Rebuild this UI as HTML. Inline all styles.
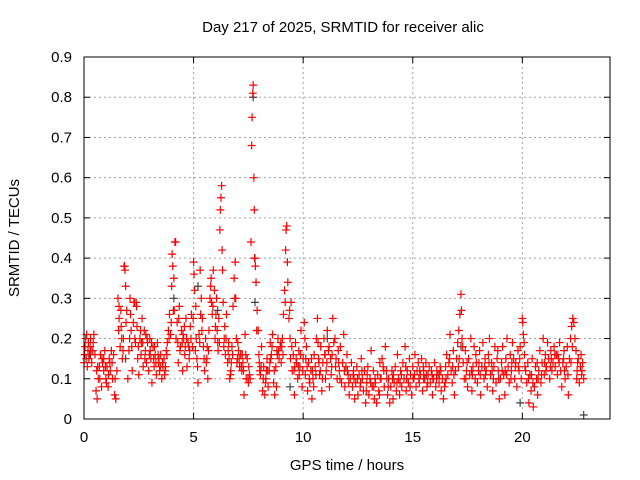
<!DOCTYPE html>
<html><head><meta charset="utf-8"><style>
body{margin:0;background:#fff}
svg{display:block}
text{font-family:"Liberation Sans",sans-serif;font-size:15px;fill:#000}
</style></head><body>
<svg id="chart" width="640" height="480">
<text x="343" y="32" text-anchor="middle">Day 217 of 2025, SRMTID for receiver alic</text>
<text x="347" y="470" text-anchor="middle">GPS time / hours</text>
<text transform="translate(19,238) rotate(-90)" text-anchor="middle">SRMTID / TECUs</text>
<g id="grid"></g>
<g id="ticks"></g>
<g id="marks"></g>
<rect x="84" y="57" width="526" height="362" fill="none" stroke="#000" stroke-width="1"/>
</svg>
<script>
const xTicks=[0,5,10,15,20];
const yTicks=[0,0.1,0.2,0.3,0.4,0.5,0.6,0.7,0.8,0.9];
const yTickLabels=["0","0.1","0.2","0.3","0.4","0.5","0.6","0.7","0.8","0.9"];
const redObs=[
[0.0,0.14],[0.05,0.18],[0.1,0.15],[0.12,0.21],[0.15,0.13],[0.2,0.19],[0.25,0.16],[0.3,0.2],[0.35,0.14],[0.4,0.17],[0.45,0.21],[0.5,0.16],
[0.55,0.07],[0.6,0.05],[0.65,0.1],[0.7,0.13],[0.75,0.16],[0.8,0.08],[0.85,0.14],[0.9,0.12],[0.95,0.17],[1.0,0.1],[1.05,0.13],[1.1,0.08],[1.15,0.15],[1.2,0.12],[1.25,0.17],[1.3,0.1],[1.35,0.16],[1.4,0.06],[1.45,0.05],[1.5,0.12],
[1.55,0.3],[1.6,0.25],[1.65,0.18],[1.7,0.23],[1.75,0.15],[1.8,0.2],[1.85,0.38],[1.87,0.37],[1.9,0.33],[1.95,0.27],[2.0,0.1],[2.05,0.17],[2.1,0.3],[2.15,0.22],[2.2,0.12],[2.25,0.24],[2.3,0.29],[2.35,0.19],[2.4,0.28],[2.45,0.15],[2.5,0.11],
[2.55,0.2],[2.6,0.16],[2.65,0.25],[2.7,0.13],[2.75,0.22],[2.8,0.17],[2.85,0.14],[2.9,0.19],[2.95,0.12],[3.0,0.2],[3.05,0.15],[3.1,0.09],[3.15,0.18],[3.2,0.13],[3.25,0.16],[3.3,0.11],[3.35,0.19],[3.4,0.14],[3.45,0.12],
[3.5,0.16],[3.55,0.1],[3.6,0.13],[3.65,0.15],[3.7,0.12],[3.75,0.17],[3.8,0.19],[3.85,0.22],[3.9,0.26],[3.95,0.21],[4.0,0.33],[4.02,0.41],[4.05,0.38],[4.1,0.35],[4.12,0.27],[4.15,0.44],[4.2,0.2],[4.25,0.24],[4.3,0.14],[4.35,0.28],[4.4,0.18],[4.45,0.22],[4.5,0.12],[4.55,0.2],[4.6,0.16],[4.65,0.25],[4.7,0.13],[4.75,0.19],[4.8,0.15],[4.85,0.23],[4.9,0.26],[4.95,0.18],
[5.0,0.39],[5.02,0.36],[5.05,0.32],[5.1,0.28],[5.15,0.15],[5.2,0.09],[5.25,0.21],[5.3,0.37],[5.35,0.3],[5.4,0.25],[5.45,0.18],[5.5,0.12],[5.55,0.2],[5.6,0.15],[5.65,0.1],[5.7,0.22],[5.75,0.3],[5.8,0.35],[5.85,0.26],[5.9,0.37],[5.95,0.32],[6.0,0.23],[6.05,0.3],[6.1,0.19],[6.15,0.25],
[6.2,0.47],[6.22,0.52],[6.25,0.55],[6.28,0.58],[6.3,0.42],[6.32,0.37],[6.35,0.29],[6.4,0.2],[6.45,0.16],[6.5,0.26],[6.55,0.14],[6.6,0.19],[6.65,0.1],[6.7,0.12],[6.75,0.18],[6.8,0.28],[6.85,0.35],[6.9,0.39],[6.92,0.3],[6.95,0.2],[7.0,0.15],[7.05,0.17],[7.1,0.13],[7.15,0.16],[7.2,0.12],[7.25,0.14],[7.3,0.06],[7.35,0.21],[7.4,0.1],[7.45,0.15],[7.5,0.09],[7.55,0.11],
[7.62,0.44],[7.65,0.68],[7.67,0.75],[7.7,0.81],[7.72,0.83],[7.75,0.6],[7.77,0.52],[7.8,0.4],[7.82,0.38],[7.85,0.34],[7.9,0.27],[7.95,0.22],[8.0,0.14],[8.05,0.11],[8.1,0.18],[8.15,0.07],[8.2,0.13],[8.25,0.06],[8.3,0.1],[8.35,0.15],[8.4,0.08],[8.45,0.12],[8.5,0.19],[8.55,0.16],[8.6,0.21],[8.65,0.09],[8.7,0.06],[8.75,0.13],[8.8,0.17],[8.85,0.2],[8.9,0.15],[8.95,0.18],[9.0,0.14],[9.05,0.2],[9.1,0.26],
[9.15,0.32],[9.2,0.42],[9.22,0.47],[9.25,0.48],[9.28,0.39],[9.3,0.34],[9.35,0.25],[9.4,0.2],[9.45,0.29],[9.5,0.12],[9.55,0.16],[9.6,0.06],[9.65,0.19],[9.7,0.14],[9.75,0.1],[9.8,0.17],[9.85,0.13],[9.9,0.22],[9.95,0.08],[10.0,0.15],[10.05,0.24],[10.1,0.11],[10.15,0.18],[10.2,0.07],[10.25,0.14],[10.3,0.09],[10.35,0.12],[10.4,0.05],[10.45,0.1],[10.5,0.16],[10.55,0.13],[10.6,0.2],[10.65,0.25],[10.7,0.15],[10.75,0.11],[10.8,0.18],[10.85,0.07],[10.9,0.14],[10.95,0.2],[11.0,0.16],[11.05,0.12],[11.1,0.22],[11.15,0.17],[11.2,0.08],[11.25,0.15],[11.3,0.13],
[11.35,0.25],[11.4,0.19],[11.45,0.2],[11.5,0.15],[11.55,0.1],[11.6,0.17],[11.65,0.12],[11.7,0.18],[11.75,0.09],[11.8,0.14],[11.85,0.21],[11.9,0.08],[11.95,0.13],[12.0,0.16],[12.05,0.11],[12.1,0.06],[12.15,0.1],[12.2,0.14],[12.25,0.08],[12.3,0.12],[12.35,0.05],[12.4,0.09],[12.45,0.13],[12.5,0.06],[12.55,0.11],[12.6,0.08],[12.65,0.15],[12.7,0.1],[12.75,0.07],[12.8,0.12],[12.85,0.04],[12.9,0.09],[12.95,0.13],[13.0,0.06],[13.05,0.1],[13.1,0.17],[13.15,0.08],[13.2,0.12],[13.25,0.05],[13.3,0.09],[13.35,0.04],[13.4,0.11],[13.45,0.07],[13.5,0.14],[13.55,0.1],[13.6,0.15],[13.65,0.13],[13.7,0.08],[13.75,0.18],[13.8,0.12],[13.85,0.06],[13.9,0.1],[13.95,0.04],[14.0,0.08],[14.05,0.12],[14.1,0.05],[14.15,0.09],[14.2,0.13],[14.25,0.07],[14.3,0.16],[14.35,0.1],[14.4,0.06],[14.45,0.12],[14.5,0.08],
[14.55,0.14],[14.6,0.1],[14.65,0.18],[14.7,0.07],[14.75,0.12],[14.8,0.09],[14.85,0.15],[14.9,0.11],[14.95,0.06],[15.0,0.13],[15.05,0.1],[15.1,0.16],[15.15,0.08],[15.2,0.12],[15.25,0.14],[15.3,0.09],[15.35,0.11],[15.4,0.15],[15.45,0.07],[15.5,0.12],[15.55,0.1],[15.6,0.14],[15.65,0.08],[15.7,0.11],[15.75,0.13],[15.8,0.09],[15.85,0.12],[15.9,0.06],[15.95,0.1],[16.0,0.14],[16.05,0.08],[16.1,0.12],[16.15,0.11],[16.2,0.09],[16.25,0.13],[16.3,0.07],[16.35,0.1],[16.4,0.05],[16.45,0.08],[16.5,0.13],[16.55,0.16],[16.6,0.11],[16.65,0.14],[16.7,0.21],[16.75,0.12],[16.8,0.09],[16.85,0.17],[16.9,0.06],[16.95,0.12],[17.0,0.15],
[17.05,0.19],[17.1,0.22],[17.15,0.26],[17.2,0.31],[17.22,0.27],[17.25,0.2],[17.3,0.14],[17.35,0.1],[17.4,0.17],[17.45,0.12],[17.5,0.08],[17.55,0.15],[17.6,0.11],[17.65,0.2],[17.7,0.07],[17.75,0.13],[17.8,0.18],[17.85,0.1],[17.9,0.14],[17.95,0.09],[18.0,0.12],[18.05,0.17],[18.1,0.06],[18.15,0.13],[18.2,0.19],[18.25,0.1],[18.3,0.15],[18.35,0.12],[18.4,0.08],[18.45,0.16],[18.5,0.2],[18.55,0.11],[18.6,0.14],[18.65,0.07],[18.7,0.13],[18.75,0.18],[18.8,0.09],[18.85,0.15],[18.9,0.12],[18.95,0.05],[19.0,0.1],[19.05,0.14],[19.1,0.18],[19.15,0.11],[19.2,0.06],[19.25,0.15],[19.3,0.2],[19.35,0.13],[19.4,0.09],[19.45,0.16],[19.5,0.12],[19.55,0.19],[19.6,0.15],[19.65,0.1],[19.7,0.14],[19.75,0.08],[19.8,0.17],[19.85,0.12],[19.9,0.18],[19.95,0.1],
[20.0,0.25],[20.02,0.24],[20.05,0.21],[20.1,0.16],[20.15,0.12],[20.2,0.09],[20.25,0.14],[20.3,0.04],[20.35,0.11],[20.4,0.07],[20.45,0.15],[20.5,0.03],[20.55,0.08],[20.6,0.13],[20.65,0.1],[20.7,0.06],[20.75,0.12],[20.8,0.17],[20.85,0.09],[20.9,0.14],[20.95,0.2],[21.0,0.11],[21.05,0.16],[21.1,0.13],[21.15,0.19],[21.2,0.15],[21.25,0.1],[21.3,0.17],[21.35,0.12],[21.4,0.14],[21.45,0.18],[21.5,0.13],[21.55,0.16],[21.6,0.11],[21.65,0.15],[21.7,0.19],[21.75,0.12],[21.8,0.08],[21.85,0.14],[21.9,0.17],[21.95,0.1],[22.0,0.13],[22.05,0.18],[22.1,0.06],[22.15,0.15],[22.2,0.2],
[22.25,0.23],[22.3,0.25],[22.35,0.24],[22.4,0.2],[22.45,0.17],[22.5,0.12],[22.55,0.15],[22.6,0.09],[22.65,0.13],[22.7,0.11],[22.75,0.14],[22.8,0.1]
];
const redExtra=[
[0.08,0.2],[0.22,0.15],[0.32,0.17],[0.62,0.13],[0.9,0.15],[1.02,0.09],[1.18,0.14],[1.6,0.28],[1.72,0.2],[2.12,0.26],[2.32,0.2],[2.42,0.23],[2.62,0.19],[2.82,0.21],[3.02,0.17],[3.22,0.18],[3.42,0.15],[3.72,0.13],[4.32,0.25],[4.52,0.21],[4.62,0.18],[4.82,0.17],[5.12,0.2],[5.32,0.26],[5.62,0.18],[5.82,0.29],[6.02,0.26],[6.12,0.17],[6.42,0.23],[6.62,0.15],[6.72,0.14],[7.02,0.19],[7.22,0.16],[7.52,0.13],[8.02,0.12],[8.32,0.12],[8.52,0.15],[8.82,0.16],[9.02,0.18],[9.42,0.15],[9.62,0.13],[9.82,0.11],[10.12,0.15],[10.42,0.12],[10.72,0.14],[11.02,0.1],[11.32,0.16],[11.62,0.14],[12.02,0.12],[12.32,0.1],[12.62,0.09],[12.92,0.11],[13.22,0.08],[13.52,0.1],[13.82,0.1],[14.12,0.11],[14.42,0.09],[14.72,0.1],[15.02,0.1],[15.32,0.12],[15.62,0.11],[15.92,0.1],[16.22,0.11],[16.52,0.1],[16.82,0.13],[17.12,0.15],[17.42,0.1],[17.72,0.11],[18.02,0.14],[18.32,0.11],[18.62,0.12],[18.92,0.1],[19.22,0.12],[19.52,0.14],[19.82,0.13],[20.12,0.13],[20.42,0.11],[20.72,0.1],[21.02,0.14],[21.32,0.15],[21.62,0.16],[21.92,0.12],[22.22,0.14],[22.52,0.14],[22.72,0.12]
];
const redDense=[
[0.03,0.16],[0.18,0.17],[0.28,0.18],[0.42,0.19],[0.58,0.12],[0.72,0.1],[0.82,0.15],[0.98,0.13],[1.12,0.11],[1.28,0.14],[1.42,0.1],[1.58,0.22],[1.68,0.27],[1.78,0.17],[1.83,0.38],[1.92,0.24],[2.08,0.2],[2.18,0.18],[2.28,0.29],[2.38,0.29],[2.48,0.18],[2.58,0.22],[2.68,0.19],[2.78,0.15],[2.88,0.2],[2.98,0.16],[3.08,0.19],[3.18,0.15],[3.28,0.14],[3.38,0.16],[3.48,0.13],[3.58,0.14],[3.68,0.11],[3.78,0.16],[3.88,0.2],[3.98,0.24],[4.08,0.27],[4.18,0.44],[4.28,0.19],[4.38,0.17],[4.48,0.19],[4.58,0.23],[4.68,0.2],[4.78,0.18],[4.88,0.2],[4.98,0.25],[5.08,0.17],[5.18,0.13],[5.28,0.19],[5.38,0.22],[5.48,0.15],[5.58,0.14],[5.68,0.17],[5.78,0.33],[5.88,0.28],[5.98,0.2],[6.08,0.22],[6.18,0.19],[6.38,0.18],[6.48,0.2],[6.58,0.17],[6.68,0.11],[6.78,0.16],[6.88,0.3],[6.98,0.14],[7.08,0.15],[7.18,0.13],[7.28,0.12],[7.38,0.16],[7.48,0.1],[7.58,0.1],[7.78,0.4],[7.88,0.22],[7.98,0.16],[8.08,0.13],[8.18,0.1],[8.28,0.09],[8.38,0.12],[8.48,0.14],[8.58,0.18],[8.68,0.12],[8.78,0.08],[8.88,0.17],[8.98,0.19],[9.08,0.16],[9.18,0.29],[9.38,0.27],[9.48,0.18],[9.58,0.12],[9.68,0.15],[9.78,0.13],[9.88,0.16],[9.98,0.12],[10.08,0.2],[10.18,0.13],[10.28,0.1],[10.38,0.15],[10.48,0.08],[10.58,0.11],[10.68,0.19],[10.78,0.12],[10.88,0.1],[10.98,0.16],[11.08,0.14],[11.18,0.18],[11.28,0.11],[11.48,0.13],[11.68,0.1],[11.88,0.12],[12.08,0.09],[12.28,0.11],[12.48,0.1],[12.68,0.12],[12.88,0.07],[13.08,0.09],[13.28,0.1],[13.48,0.06],[13.68,0.12],[13.88,0.08],[14.08,0.1],[14.28,0.09],[14.48,0.11],[14.68,0.13],[14.88,0.08],[15.08,0.11],[15.28,0.1],[15.48,0.13],[15.68,0.09],[15.88,0.11],[16.08,0.1],[16.28,0.12],[16.48,0.09],[16.68,0.15],[16.88,0.11],[17.08,0.13],[17.28,0.18],[17.48,0.14],[17.68,0.12],[17.88,0.16],[18.08,0.11],[18.28,0.13],[18.48,0.14],[18.68,0.1],[18.88,0.17],[19.08,0.12],[19.28,0.11],[19.48,0.1],[19.68,0.13],[19.88,0.15],[20.08,0.19],[20.28,0.1],[20.48,0.09],[20.68,0.14],[20.88,0.11],[21.08,0.12],[21.28,0.13],[21.48,0.16],[21.68,0.14],[21.88,0.15],[22.08,0.11],[22.28,0.18],[22.48,0.1],[22.68,0.16]
];
const grayObs=[[0.3,0.16],[1.9,0.15],[4.1,0.3],[5.2,0.33],[6.1,0.27],[7.72,0.8],[7.8,0.29],[9.4,0.08],[11.1,0.2],[15.5,0.1],[17.2,0.18],[19.9,0.04],[22.8,0.01]];

const X0=84,X1=610,Y0=419,Y1=57,XMAX=24,YMAX=0.9;
const sx=v=>X0+(X1-X0)*v/XMAX;
const sy=v=>Y0-(Y0-Y1)*v/YMAX;
const NS="http://www.w3.org/2000/svg";
const grid=document.getElementById('grid'),ticks=document.getElementById('ticks'),marks=document.getElementById('marks');
function mk(tag,attrs,parent){const e=document.createElementNS(NS,tag);for(const k in attrs)e.setAttribute(k,attrs[k]);parent.appendChild(e);return e;}
xTicks.forEach(t=>{
  const x=sx(t);
  if(t>0){const g=mk('line',{x1:x,y1:Y1,x2:x,y2:Y0,stroke:'#a0a0a0','stroke-dasharray':'2,3'},grid);
  
  }
  mk('line',{x1:x,y1:Y0,x2:x,y2:Y0-6,stroke:'#000'},ticks);
  mk('line',{x1:x,y1:Y1,x2:x,y2:Y1+6,stroke:'#000'},ticks);
  const l=mk('text',{x:x,y:Y0+23,'text-anchor':'middle'},ticks);l.textContent=t;
  
  
});
yTicks.forEach((t,i)=>{
  const y=sy(t);
  if(t>0&&t<0.9){const g=mk('line',{x1:X0,y1:y,x2:X1,y2:y,stroke:'#a0a0a0','stroke-dasharray':'2,3'},grid);
  
  }
  mk('line',{x1:X0,y1:y,x2:X0+6,y2:y,stroke:'#000'},ticks);
  mk('line',{x1:X1,y1:y,x2:X1-6,y2:y,stroke:'#000'},ticks);
  const l=mk('text',{x:X0-12,y:y+5,'text-anchor':'end'},ticks);l.textContent=yTickLabels[i];
  
  
});
function plus(pts,color,name){
  let d='';
  pts.forEach(p=>{const x=sx(p[0]),y=sy(p[1]);d+=`M${x-4},${y}h8M${x},${y-4}v8`;});
  const e=mk('path',{d:d,stroke:color,'stroke-width':1.2,fill:'none'},marks);
  
  
}
plus(grayObs,'#404040','gray-points');
plus(redObs,'#ff0000','red-points');
plus(redExtra,'#ff0000','red-points-extra');
plus(redDense,'#ff0000','red-points-dense');
</script>
</body></html>
